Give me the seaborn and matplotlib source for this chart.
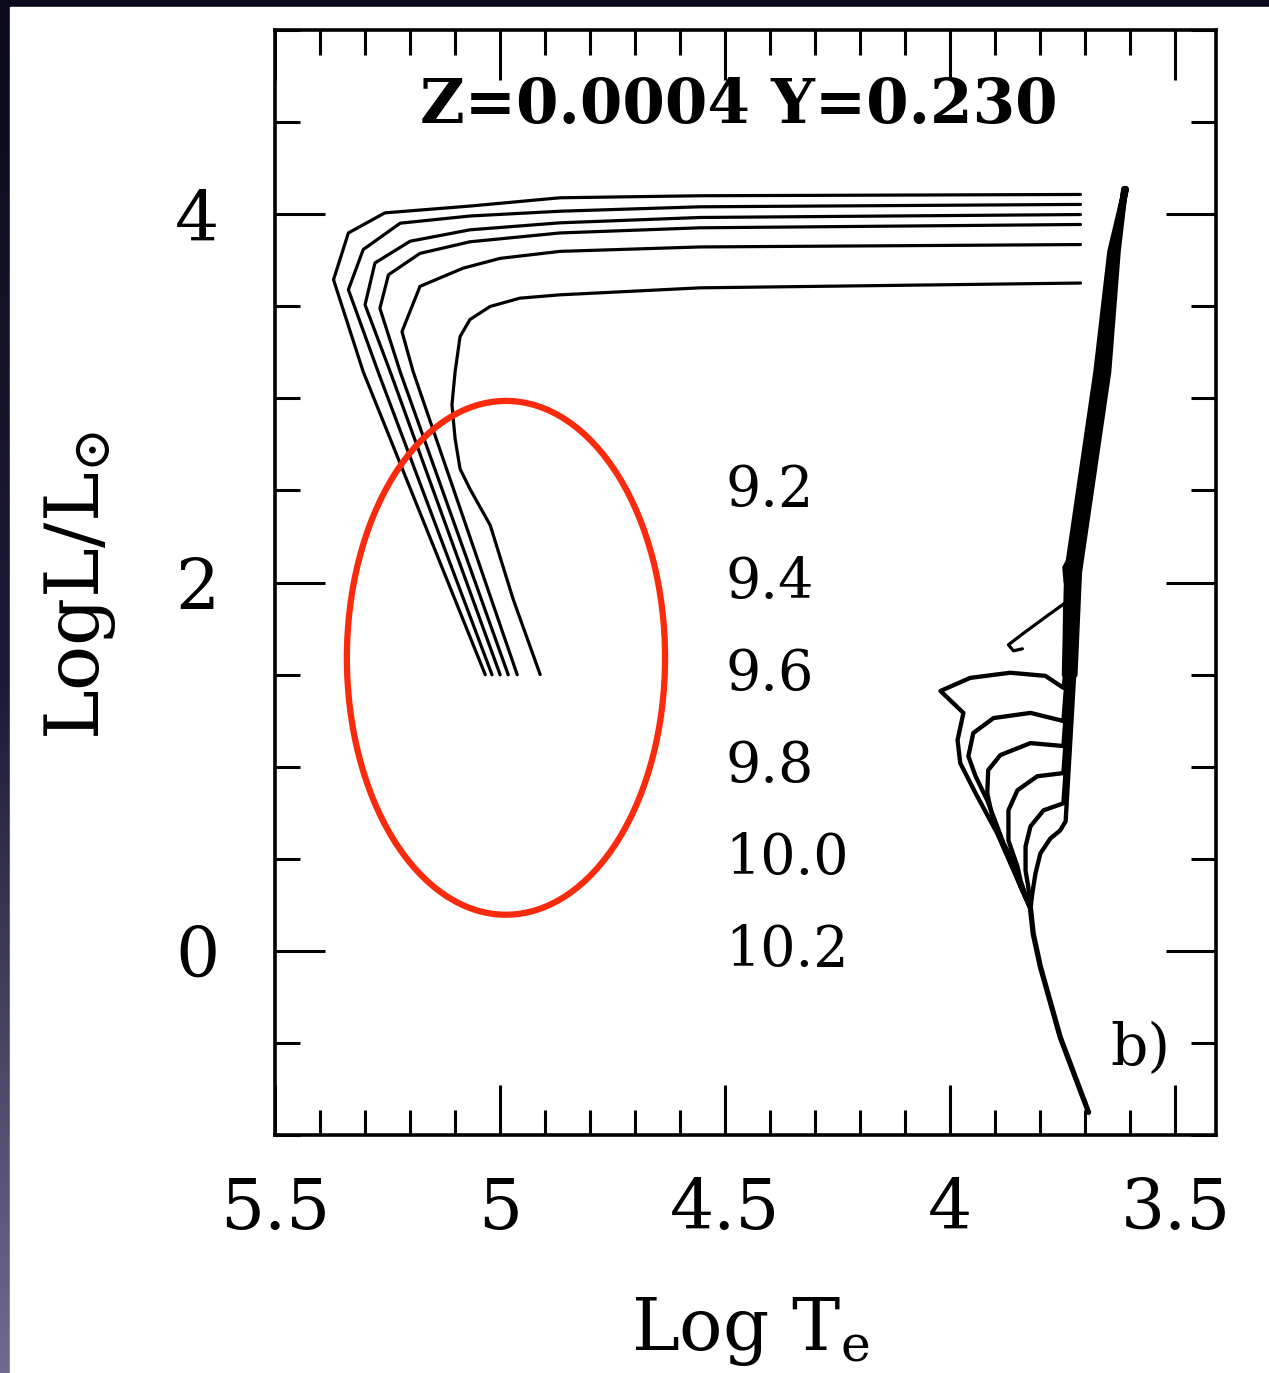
import numpy as np
import pandas as pd
import matplotlib
matplotlib.use("Agg")
import matplotlib.pyplot as plt
import seaborn as sns
from matplotlib.patches import Ellipse, Rectangle
from matplotlib.colors import LinearSegmentedColormap
from matplotlib.ticker import MultipleLocator, FuncFormatter

sns.set_theme(style="white")
plt.rcParams["font.family"] = ["DejaVu Serif"]
plt.rcParams["mathtext.fontset"] = "dejavuserif"

# ---------------- data (log Te, log L) ----------------
ages = ["9.2", "9.4", "9.6", "9.8", "10.0", "10.2"]
age_label_y = [2.5, 2.0, 1.5, 1.0, 0.5, 0.0]

# hot (left) group of tracks, one per age
hot_x = [
    [3.711, 4.556, 4.867, 5.067, 5.256, 5.337, 5.370, 5.304, 5.033],
    [3.711, 4.556, 4.867, 5.067, 5.222, 5.304, 5.337, 5.271, 5.018],
    [3.711, 4.556, 4.867, 5.067, 5.200, 5.278, 5.300, 5.244, 5.000],
    [3.711, 4.556, 4.867, 5.067, 5.178, 5.248, 5.267, 5.222, 4.982],
    [3.711, 4.556, 4.867, 5.000, 5.082, 5.178, 5.218, 5.193, 4.962],
    [3.711, 4.556, 4.867, 4.956, 5.022, 5.067, 5.089, 5.100, 5.107, 5.100, 5.089,
     5.067, 5.022, 4.971, 4.911],
]
hot_y = [
    [4.107, 4.100, 4.089, 4.044, 4.007, 3.898, 3.644, 3.144, 1.499],
    [4.053, 4.040, 4.016, 3.990, 3.951, 3.808, 3.590, 3.144, 1.499],
    [3.998, 3.982, 3.953, 3.915, 3.853, 3.735, 3.508, 3.144, 1.499],
    [3.944, 3.926, 3.898, 3.850, 3.787, 3.671, 3.489, 3.144, 1.499],
    [3.835, 3.822, 3.798, 3.760, 3.707, 3.608, 3.362, 3.144, 1.499],
    [3.626, 3.600, 3.562, 3.544, 3.499, 3.428, 3.335, 3.144, 2.965, 2.781, 2.617,
     2.508, 2.311, 1.909, 1.500],
]

# lower main sequence shared by all isochrones
ms_x = [3.693, 3.756, 3.800, 3.816, 3.822]
ms_y = [-0.877, -0.469, -0.087, 0.093, 0.229]

# turn-off / subgiant part of each isochrone
to_x = [
    [3.844, 3.896, 3.944, 3.978, 3.984, 3.971, 4.022, 3.956, 3.867, 3.789, 3.749],
    [3.844, 3.878, 3.896, 3.918, 3.944, 3.960, 3.949, 3.904, 3.822, 3.749],
    [3.844, 3.860, 3.882, 3.907, 3.918, 3.916, 3.889, 3.822, 3.749],
    [3.844, 3.851, 3.871, 3.871, 3.851, 3.807, 3.749],
    [3.827, 3.833, 3.833, 3.822, 3.793, 3.749],
    [3.818, 3.811, 3.800, 3.778, 3.756, 3.744],
]
to_y = [
    [0.349, 0.638, 0.856, 1.019, 1.144, 1.292, 1.411, 1.482, 1.510, 1.493, 1.428],
    [0.349, 0.556, 0.676, 0.817, 0.948, 1.057, 1.183, 1.264, 1.292, 1.248],
    [0.349, 0.490, 0.583, 0.730, 0.856, 0.981, 1.063, 1.128, 1.112],
    [0.381, 0.458, 0.599, 0.763, 0.872, 0.948, 0.965],
    [0.349, 0.436, 0.567, 0.676, 0.763, 0.801],
    [0.311, 0.420, 0.529, 0.610, 0.654, 0.703],
]

# red giant branch of each isochrone
rgb_y = [1.499, 2.054, 3.144, 3.798, 4.135]
rgb_x = [
    [3.745, 3.740, 3.675, 3.644, 3.611],
    [3.741, 3.735, 3.670, 3.641, 3.611],
    [3.737, 3.730, 3.665, 3.638, 3.612],
    [3.733, 3.725, 3.660, 3.635, 3.612],
    [3.729, 3.720, 3.655, 3.632, 3.613],
    [3.725, 3.715, 3.650, 3.629, 3.613],
]

# small clump / loop features near the giant branch
loop_x = [3.736, 3.748, 3.745, 3.733, 3.736]
loop_y = [2.136, 2.082, 2.000, 2.054, 2.136]
hb_x = [3.744, 3.790, 3.840, 3.871, 3.860, 3.840]
hb_y = [1.891, 1.810, 1.720, 1.662, 1.629, 1.640]
spur_x = [3.748, 3.748]
spur_y = [1.891, 1.738]

# ---------------- figure ----------------
W, H = 1269, 1373
fig = plt.figure(figsize=(W / 100, H / 100), dpi=100)

bg = fig.add_axes([0, 0, 1, 1], zorder=-10)
grad = np.linspace(0, 1, 256).reshape(-1, 1)
cmap = LinearSegmentedColormap.from_list("edge", ["#0a0a1c", "#1c1b36", "#6f6b8f"])
bg.imshow(grad, aspect="auto", cmap=cmap, extent=[0, 1, 0, 1], origin="upper")
bg.add_patch(Rectangle((10 / W, 0), 1, (H - 7) / H, color="white", transform=bg.transAxes))
bg.set_xlim(0, 1)
bg.set_ylim(0, 1)
bg.axis("off")

ax = fig.add_axes([275 / W, 1 - 1135 / H, 941 / W, 1105 / H])
ax.set_facecolor("none")

lw = 2.3
for xs, ys in zip(hot_x, hot_y):
    sns.lineplot(x=xs, y=ys, sort=False, estimator=None, color="black", lw=lw, ax=ax)

sns.lineplot(x=ms_x, y=ms_y, sort=False, estimator=None, color="black", lw=lw + 1.5, ax=ax)
for i in range(len(ages)):
    xs = [ms_x[-1]] + to_x[i] + rgb_x[i]
    ys = [ms_y[-1]] + to_y[i] + rgb_y
    sns.lineplot(x=xs, y=ys, sort=False, estimator=None, color="black", lw=lw + 0.8, ax=ax)
    sns.lineplot(x=rgb_x[i], y=rgb_y, sort=False, estimator=None, color="black",
                 lw=lw + 2.6, ax=ax)

for xs, ys in [(loop_x, loop_y), (hb_x, hb_y), (spur_x, spur_y)]:
    sns.lineplot(x=xs, y=ys, sort=False, estimator=None, color="black", lw=lw, ax=ax)

ax.set_xlim(5.5, 3.41)
ax.set_ylim(-1, 5)

for s in ax.spines.values():
    s.set_visible(True)
    s.set_color("black")
    s.set_linewidth(2.6)

ax.xaxis.set_major_locator(MultipleLocator(0.5))
ax.xaxis.set_minor_locator(MultipleLocator(0.1))
ax.yaxis.set_major_locator(MultipleLocator(2))
ax.yaxis.set_minor_locator(MultipleLocator(0.5))
ax.xaxis.set_major_formatter(FuncFormatter(lambda v, p: f"{v:g}"))
ax.yaxis.set_major_formatter(FuncFormatter(lambda v, p: f"{v:g}"))
ax.tick_params(which="both", direction="in", top=True, right=True, bottom=True, left=True,
               color="black", width=2.2, labelcolor="black")
ax.tick_params(which="major", length=36, labelsize=50)
ax.tick_params(axis="x", which="major", pad=30)
ax.tick_params(axis="y", which="major", pad=40)
ax.tick_params(which="minor", length=18)
ax.set_xlabel("")
ax.set_ylabel("")

# texts
ax.text(4.469, 4.59, "Z=0.0004 Y=0.230", ha="center", va="center", fontsize=44,
        fontweight="bold", color="black")
for lab, yy in zip(ages, age_label_y):
    ax.text(4.50, yy, lab, ha="left", va="center", fontsize=40, color="black")
ax.text(3.578, -0.53, "b)", ha="center", va="center", fontsize=42, color="black")

fig.text(750 / W, 1 - 1350 / H, r"Log T$_{\mathregular{e}}$", ha="center", va="baseline",
         fontsize=52, color="black")
fig.text(80 / W, 1 - 585 / H, r"LogL/L$_{\odot}$", ha="center", va="center", rotation=90,
         fontsize=54, color="black")

# red highlight ellipse
ax.add_patch(Ellipse((4.987, 1.591), width=0.7067, height=2.790, edgecolor="#fa2a0c",
                     facecolor="none", lw=4.5, zorder=5))

fig.savefig("out.png", dpi=100)
